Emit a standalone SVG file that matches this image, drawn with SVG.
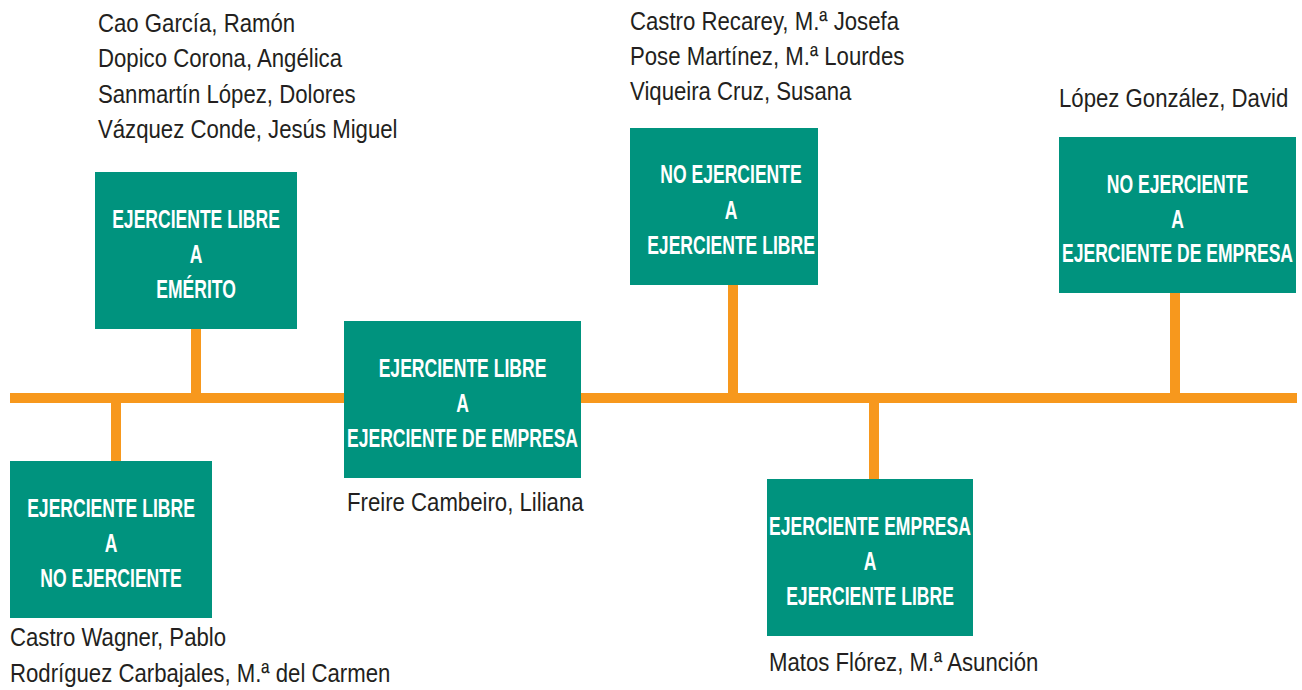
<svg xmlns="http://www.w3.org/2000/svg" width="1302" height="690" viewBox="0 0 1302 690">
<style>
.box{fill:#00937E}
.bt{font-family:"Liberation Sans",Arial,sans-serif;font-weight:bold;font-size:26px;fill:#FFFFFF;text-anchor:middle}
.nm{font-family:"Liberation Sans",Arial,sans-serif;font-size:26px;fill:#231F20}
.conn line{stroke:#F7981D;stroke-width:10}
</style>
<rect width="1302" height="690" fill="#FFFFFF"/>
<g id="connectors" class="conn">
<line x1="10" y1="398" x2="1297" y2="398"/>
<line x1="196" y1="329" x2="196" y2="398"/>
<line x1="733" y1="285" x2="733" y2="398"/>
<line x1="1175" y1="293" x2="1175" y2="398"/>
<line x1="116" y1="398" x2="116" y2="461"/>
<line x1="874" y1="398" x2="874" y2="479"/>
</g>
<g id="node-libre-emerito">
<rect class="box" x="95" y="172" width="202" height="157"/>
<text class="bt" transform="translate(196,0) scale(0.675,1)" x="0" y="228">EJERCIENTE LIBRE</text>
<text class="bt" transform="translate(196,0) scale(0.675,1)" x="0" y="263">A</text>
<text class="bt" transform="translate(196,0) scale(0.675,1)" x="0" y="298">EMÉRITO</text>
</g>
<g id="names-emerito">
<text class="nm" transform="translate(98,0) scale(0.853,1)" x="0" y="32">Cao García, Ramón</text>
<text class="nm" transform="translate(98,0) scale(0.853,1)" x="0" y="67">Dopico Corona, Angélica</text>
<text class="nm" transform="translate(98,0) scale(0.853,1)" x="0" y="103">Sanmartín López, Dolores</text>
<text class="nm" transform="translate(98,0) scale(0.853,1)" x="0" y="138">Vázquez Conde, Jesús Miguel</text>
</g>
<g id="node-libre-empresa">
<rect class="box" x="344" y="321" width="237" height="157"/>
<text class="bt" transform="translate(462.5,0) scale(0.675,1)" x="0" y="377">EJERCIENTE LIBRE</text>
<text class="bt" transform="translate(462.5,0) scale(0.675,1)" x="0" y="412">A</text>
<text class="bt" transform="translate(462.5,0) scale(0.675,1)" x="0" y="447">EJERCIENTE DE EMPRESA</text>
<text class="nm" transform="translate(347,0) scale(0.853,1)" x="0" y="511">Freire Cambeiro, Liliana</text>
</g>
<g id="node-no-libre">
<rect class="box" x="630" y="128" width="188" height="157"/>
<text class="bt" transform="translate(731,0) scale(0.675,1)" x="0" y="183">NO EJERCIENTE</text>
<text class="bt" transform="translate(731,0) scale(0.675,1)" x="0" y="219">A</text>
<text class="bt" transform="translate(731,0) scale(0.675,1)" x="0" y="254">EJERCIENTE LIBRE</text>
</g>
<g id="names-no-libre">
<text class="nm" transform="translate(630,0) scale(0.853,1)" x="0" y="30">Castro Recarey, M.ª Josefa</text>
<text class="nm" transform="translate(630,0) scale(0.853,1)" x="0" y="65">Pose Martínez, M.ª Lourdes</text>
<text class="nm" transform="translate(630,0) scale(0.853,1)" x="0" y="100">Viqueira Cruz, Susana</text>
</g>
<g id="node-no-empresa">
<rect class="box" x="1059" y="137" width="237" height="156"/>
<text class="bt" transform="translate(1177.5,0) scale(0.675,1)" x="0" y="193">NO EJERCIENTE</text>
<text class="bt" transform="translate(1177.5,0) scale(0.675,1)" x="0" y="228">A</text>
<text class="bt" transform="translate(1177.5,0) scale(0.675,1)" x="0" y="262">EJERCIENTE DE EMPRESA</text>
<text class="nm" transform="translate(1059,0) scale(0.853,1)" x="0" y="107">López González, David</text>
</g>
<g id="node-libre-no">
<rect class="box" x="10" y="461" width="202" height="157"/>
<text class="bt" transform="translate(111,0) scale(0.675,1)" x="0" y="517">EJERCIENTE LIBRE</text>
<text class="bt" transform="translate(111,0) scale(0.675,1)" x="0" y="552">A</text>
<text class="bt" transform="translate(111,0) scale(0.675,1)" x="0" y="587">NO EJERCIENTE</text>
<text class="nm" transform="translate(10,0) scale(0.853,1)" x="0" y="646">Castro Wagner, Pablo</text>
<text class="nm" transform="translate(10,0) scale(0.853,1)" x="0" y="682">Rodríguez Carbajales, M.ª del Carmen</text>
</g>
<g id="node-empresa-libre">
<rect class="box" x="767" y="479" width="206" height="157"/>
<text class="bt" transform="translate(870,0) scale(0.675,1)" x="0" y="535">EJERCIENTE EMPRESA</text>
<text class="bt" transform="translate(870,0) scale(0.675,1)" x="0" y="570">A</text>
<text class="bt" transform="translate(870,0) scale(0.675,1)" x="0" y="605">EJERCIENTE LIBRE</text>
<text class="nm" transform="translate(769,0) scale(0.853,1)" x="0" y="671">Matos Flórez, M.ª Asunción</text>
</g>
</svg>
